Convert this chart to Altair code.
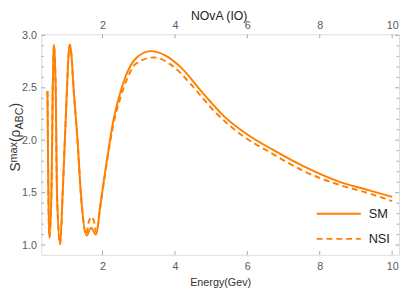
import altair as alt
import pandas as pd

# ---------------- data ----------------
energy_sm = [0.48, 0.53, 0.59, 0.626, 0.645, 0.66, 0.68, 0.707, 0.742, 0.83,
             0.90, 0.96, 1.02, 1.06, 1.10, 1.14, 1.20, 1.31, 1.40, 1.56,
             1.685, 1.82, 1.94, 2.12, 2.30, 2.48, 2.65, 2.92, 3.33, 3.73,
             4.18, 4.72, 5.35, 5.98, 6.70, 7.59, 8.49, 9.39, 10.0]
s_sm = [2.47, 1.07, 1.50, 2.50, 2.82, 2.91, 2.80, 2.50, 1.50, 1.01,
        1.50, 2.00, 2.50, 2.80, 2.91, 2.82, 2.50, 2.00, 1.50, 1.09,
        1.165, 1.10, 1.38, 1.81, 2.19, 2.44, 2.62, 2.78, 2.85, 2.81,
        2.69, 2.47, 2.23, 2.06, 1.91, 1.745, 1.61, 1.52, 1.46]

energy_nsi = [0.48, 0.53, 0.59, 0.626, 0.645, 0.66, 0.68, 0.707, 0.742, 0.83,
              0.90, 0.96, 1.02, 1.06, 1.10, 1.14, 1.20, 1.31, 1.40, 1.55,
              1.62, 1.70, 1.77, 1.83, 1.94, 2.12, 2.30, 2.48, 2.65, 2.92,
              3.42, 4.00, 4.45, 5.08, 5.80, 6.70, 7.59, 8.49, 9.39, 10.0]
s_nsi = [2.47, 1.07, 1.50, 2.50, 2.82, 2.91, 2.80, 2.50, 1.50, 1.01,
         1.50, 2.00, 2.50, 2.80, 2.91, 2.82, 2.50, 2.00, 1.50, 1.10,
         1.22, 1.27, 1.22, 1.12, 1.37, 1.79, 2.15, 2.39, 2.56, 2.73,
         2.79, 2.69, 2.53, 2.28, 2.06, 1.87, 1.70, 1.58, 1.49, 1.42]

x_ticks = [2, 4, 6, 8, 10]
y_major = [1.0, 1.5, 2.0, 2.5, 3.0]
y_minor = [1.1, 1.2, 1.3, 1.4, 1.6, 1.7, 1.8, 1.9, 2.1, 2.2, 2.3, 2.4,
           2.6, 2.7, 2.8, 2.9]
series_names = ["SM", "NSI"]
chart_title = ["NOvA (IO)"]
x_title = "Energy(Gev)"
y_title_parts = ["S", "max", "(ρ", "ABC", ")"]

# ---------------- styling ----------------
ORANGE = "#FF8000"
FRAME = "#a8a8a8"
LABEL = "#5a5a5a"
FONT = "Liberation Sans"
W, H = 365, 225

xs = alt.Scale(domain=[0.31, 10.19], nice=False, zero=False)
ys = alt.Scale(domain=[0.907, 3.01], nice=False, zero=False)

df_sm = pd.DataFrame({"E": energy_sm, "S": s_sm})
df_nsi = pd.DataFrame({"E": energy_nsi, "S": s_nsi})

axis_common = dict(ticks=False, domain=False, grid=False, labelFont=FONT,
                   labelFontSize=11, labelColor=LABEL, labelFlush=False)

x_bottom = alt.Axis(orient="bottom", values=x_ticks, format="d", labelPadding=6,
                    title=x_title, titleFont=FONT, titleFontSize=11,
                    titleFontWeight="normal", titleColor="#333333",
                    titlePadding=5, **axis_common)
x_top = alt.Axis(orient="top", values=x_ticks, format="d", labelPadding=4,
                 title="", **axis_common)
y_left = alt.Axis(orient="left", values=y_major, format=".1f", labelPadding=5,
                  title="", **axis_common)

sm_line = alt.Chart(df_sm).mark_line(color=ORANGE, strokeWidth=2,
                                     interpolate="monotone").encode(
    x=alt.X("E:Q", scale=xs, axis=x_bottom),
    y=alt.Y("S:Q", scale=ys, axis=y_left),
)
nsi_line = alt.Chart(df_nsi).mark_line(color=ORANGE, strokeWidth=2,
                                       strokeDash=[6, 4],
                                       interpolate="monotone").encode(
    x=alt.X("E:Q", scale=xs, axis=x_top),
    y=alt.Y("S:Q", scale=ys, axis=None),
)

# inward frame ticks
def yticks(vals, length):
    d = pd.DataFrame({"v": vals})
    left = alt.Chart(d).mark_rule(color=FRAME, strokeWidth=1).encode(
        y=alt.Y("v:Q", scale=ys, axis=None), x=alt.value(0), x2=alt.value(length))
    right = alt.Chart(d).mark_rule(color=FRAME, strokeWidth=1).encode(
        y=alt.Y("v:Q", scale=ys, axis=None), x=alt.value(W), x2=alt.value(W - length))
    return [left, right]

def xticks(vals, length):
    d = pd.DataFrame({"v": vals})
    bottom = alt.Chart(d).mark_rule(color=FRAME, strokeWidth=1).encode(
        x=alt.X("v:Q", scale=xs, axis=None), y=alt.value(H), y2=alt.value(H - length))
    top = alt.Chart(d).mark_rule(color=FRAME, strokeWidth=1).encode(
        x=alt.X("v:Q", scale=xs, axis=None), y=alt.value(0), y2=alt.value(length))
    return [bottom, top]

tick_layers = yticks(y_major, 4) + yticks(y_minor, 2.5) + xticks(x_ticks, 4)

# title
title_layer = alt.Chart(pd.DataFrame({"t": chart_title})).mark_text(
    font=FONT, fontSize=12.5, color="#222222", align="center",
    baseline="alphabetic").encode(text="t:N", x=alt.value(W / 2 - 1), y=alt.value(-14.8))

# y axis title S^max(rho_ABC), rotated
def ypart(txt, size, xb, y0):
    return alt.Chart(pd.DataFrame({"t": [txt]})).mark_text(
        font=FONT, fontSize=size, color="#333333", angle=270, align="left",
        baseline="alphabetic").encode(text="t:N", x=alt.value(xb), y=alt.value(y0))

xb = -22
ylab = [
    ypart(y_title_parts[0], 14, xb, 140),
    ypart(y_title_parts[1], 11, xb - 3, 130.7),
    ypart(y_title_parts[2], 14, xb, 109.9),
    ypart(y_title_parts[3], 11, xb + 3, 97.2),
    ypart(y_title_parts[4], 14, xb, 74.6),
]

# legend
leg_solid = alt.Chart(pd.DataFrame({"t": [series_names[0]]})).mark_rule(
    color=ORANGE, strokeWidth=2).encode(x=alt.value(281), x2=alt.value(326),
                                        y=alt.value(183))
leg_dash = alt.Chart(pd.DataFrame({"t": [series_names[1]]})).mark_rule(
    color=ORANGE, strokeWidth=2, strokeDash=[6, 4]).encode(
    x=alt.value(281), x2=alt.value(326), y=alt.value(208.7))
leg_t1 = alt.Chart(pd.DataFrame({"t": [series_names[0]]})).mark_text(
    font=FONT, fontSize=13, color="#222222", align="left", baseline="middle").encode(
    text="t:N", x=alt.value(334), y=alt.value(183))
leg_t2 = alt.Chart(pd.DataFrame({"t": [series_names[1]]})).mark_text(
    font=FONT, fontSize=13, color="#222222", align="left", baseline="middle").encode(
    text="t:N", x=alt.value(334), y=alt.value(208.7))

chart = alt.layer(
    *tick_layers, sm_line, nsi_line, title_layer, *ylab,
    leg_solid, leg_dash, leg_t1, leg_t2,
).resolve_axis(x="independent", y="independent").properties(
    width=W, height=H,
    autosize=alt.AutoSizeParams(type="none"),
    padding={"left": 34, "top": 24, "right": 2, "bottom": 34},
).configure_view(stroke=FRAME, strokeWidth=1).configure(background="white")

chart.save("out.html", embed_options={"renderer": "svg", "actions": False})
